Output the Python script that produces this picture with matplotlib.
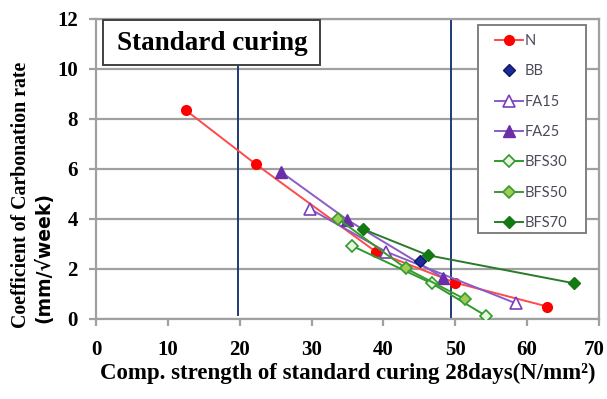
import matplotlib
matplotlib.use('Agg')
import matplotlib.pyplot as plt
from matplotlib.patches import Rectangle
from matplotlib.transforms import ScaledTranslation

# data
n_x = [12.5, 22.2, 38.9, 50.0, 62.8]
n_y = [8.35, 6.2, 2.7, 1.45, 0.5]
bb_x = [45.1]
bb_y = [2.32]
fa15_x = [29.8, 40.3, 58.4]
fa15_y = [4.4, 2.7, 0.63]
fa25_x = [25.8, 35.0, 48.3]
fa25_y = [5.87, 3.96, 1.65]
bfs30_x = [35.6, 46.7, 54.3]
bfs30_y = [2.93, 1.43, 0.12]
bfs50_x = [33.7, 43.1, 51.3]
bfs50_y = [4.0, 2.03, 0.8]
bfs70_x = [37.1, 46.2, 66.5]
bfs70_y = [3.6, 2.55, 1.43]

ref_x = [19.8, 49.4]
ref_bottom = [0.15, 0.0]

xticks = [0, 10, 20, 30, 40, 50, 60, 70]
yticks = [0, 2, 4, 6, 8, 10, 12]

serif = 'Liberation Serif'
W, H = 607, 399

fig = plt.figure(figsize=(6.07, 3.99), dpi=100)
ax = fig.add_axes([96 / W, 1 - 319 / H, 503 / W, 300 / H])
ax.set_xlim(0, 70)
ax.set_ylim(0, 12)

# horizontal grid only
for yv in yticks:
    ax.axhline(yv, color='#a0a0a0', lw=1.6, zorder=0)
for s in ax.spines.values():
    s.set_color('#a0a0a0')
    s.set_linewidth(1.6)

# reference verticals
for xv, yb in zip(ref_x, ref_bottom):
    ax.plot([xv, xv], [yb, 12], color='#1f3a78', lw=1.4, zorder=1)

ax.plot(n_x, n_y, '-o', color='#ff4a4a', mfc='#ff0000', mec='#ff0000', ms=7, lw=1.4, label='N', zorder=3)
ax.plot(bb_x, bb_y, 'D', ls='none', color='#1c2a9c', mec='#101860', ms=6.5, label='BB', zorder=4)
ax.plot(fa15_x, fa15_y, '-^', color='#8a5cc8', mfc='white', mec='#7a3fb8', ms=8, mew=1.2, lw=1.4, label='FA15', zorder=3)
ax.plot(fa25_x, fa25_y, '-^', color='#8a5cc8', mfc='#6a2fa8', mec='#6a2fa8', ms=8, lw=1.4, label='FA25', zorder=3)
ax.plot(bfs30_x, bfs30_y, '-D', color='#2e9a2e', mfc='#e8f5e0', mec='#2e9a2e', ms=6, mew=1.2, lw=1.4, label='BFS30', zorder=3)
ax.plot(bfs50_x, bfs50_y, '-D', color='#3a9a2a', mfc='#9ccc5a', mec='#3a9a2a', ms=6, mew=1.2, lw=1.4, label='BFS50', zorder=3)
ax.plot(bfs70_x, bfs70_y, '-D', color='#2a7a2a', mfc='#137a13', mec='#137a13', ms=6, lw=1.4, label='BFS70', zorder=3)

ax.set_xticks(xticks)
ax.set_yticks(yticks)
ax.tick_params(axis='both', colors='#a0a0a0', length=5, width=1.6, labelcolor='black', labelsize=15)
ax.tick_params(axis='x', pad=10)
ax.tick_params(axis='y', pad=8)
for lab in ax.get_xticklabels() + ax.get_yticklabels():
    lab.set_fontfamily(serif)
    lab.set_fontweight('bold')
last = ax.get_xticklabels()[-1]
last.set_transform(last.get_transform() + ScaledTranslation(-5 / 100, 0, fig.dpi_scale_trans))

ax.set_xlabel('Comp. strength of standard curing 28days(N/mm\u00b2)',
              fontfamily=serif, fontweight='bold', fontsize=16.5, labelpad=2)

fig.text(21 / W, 1 - 328 / H, 'Coefficient of Carbonation rate', rotation=90, ha='center', va='bottom',
         fontfamily=serif, fontweight='bold', fontsize=14.3)
fig.text(44 / W, 1 - 323 / H, '(mm/\u221aweek)', rotation=90, ha='center', va='bottom',
         fontfamily='DejaVu Sans', fontweight='bold', fontsize=13.5)

# title box
box = Rectangle((103 / W, 1 - 65 / H), 217 / W, 45 / H, transform=fig.transFigure,
                facecolor='white', edgecolor='#404040', lw=1.4, zorder=5)
fig.patches.append(box)
fig.text(212 / W, 1 - 43 / H, 'Standard curing', ha='center', va='center',
         fontfamily=serif, fontweight='bold', fontsize=19.5, zorder=6)

# legend with its own frame
frame = Rectangle((478 / W, 1 - 233 / H), 108 / W, 208 / H, transform=fig.transFigure,
                  facecolor='white', edgecolor='#808080', lw=1.4, zorder=4.5, clip_on=False)
ax.add_patch(frame)
leg = ax.legend(loc='upper left', bbox_to_anchor=(495 / W, 1 - 34 / H), bbox_transform=fig.transFigure,
                prop={'family': 'Lato', 'size': 10.5}, labelspacing=1.12, handlelength=1.9,
                handletextpad=0.15, borderpad=0, frameon=False, borderaxespad=0)
leg.set_zorder(6)
for t in leg.get_texts():
    t.set_color('#4a4a5a')

fig.savefig('out.png', dpi=100)
